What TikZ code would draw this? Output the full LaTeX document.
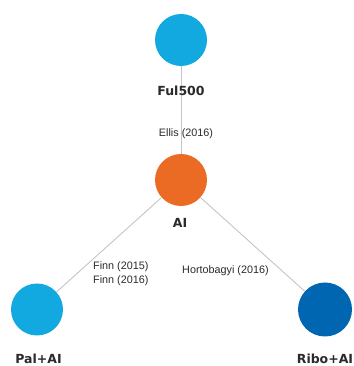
\documentclass[tikz,border=0pt]{standalone}
\usepackage{fontspec}
\setmainfont{Liberation Sans}
\newfontfamily\labfont{DejaVu Sans}
\definecolor{lightblue}{HTML}{12A8E0}
\definecolor{darkblue}{HTML}{0066B2}
\definecolor{orangec}{HTML}{EC6B24}
\definecolor{edgegray}{HTML}{C4C4C4}
\definecolor{txt}{HTML}{2A2A2A}
\begin{document}
\begin{tikzpicture}[x=1pt,y=1pt,
  ball/.style={circle,inner sep=0pt,minimum size=52pt},
  nlabel/.style={anchor=base,inner sep=0pt,text=txt,font=\labfont\bfseries\fontsize{12.5}{14}\selectfont},
  elabel/.style={inner sep=0pt,text=txt,font=\fontsize{10.8}{14}\selectfont},
  link/.style={draw=edgegray,line width=0.9pt}]
\useasboundingbox (0,0) rectangle (353,366);
\node[ball,fill=lightblue] (ful) at (181,326) {};
\node[ball,fill=orangec] (ai) at (181,186) {};
\node[ball,fill=lightblue] (pal) at (37,56.5) {};
\node[ball,fill=darkblue,minimum size=54pt] (ribo) at (325,56.5) {};
\draw[link] (ful) -- (ai);
\draw[link] (ai) -- (pal);
\draw[link] (ai) -- (ribo);
\node[nlabel] (lful) at (181,270) {Ful500};
\node[nlabel] (lai) at (180,138) {AI};
\node[nlabel] (lpal) at (38.5,2) {Pal+AI};
\node[nlabel] (lribo) at (325,2) {Ribo+AI};
\node[elabel,anchor=base] (ellis) at (186,229) {Ellis (2016)};
\node[elabel,anchor=base west] (finn1) at (93,96) {Finn (2015)};
\node[elabel,anchor=base west] (finn2) at (93,82) {Finn (2016)};
\node[elabel,anchor=base west] (horto) at (182,92) {Hortobagyi (2016)};
\end{tikzpicture}
\end{document}
